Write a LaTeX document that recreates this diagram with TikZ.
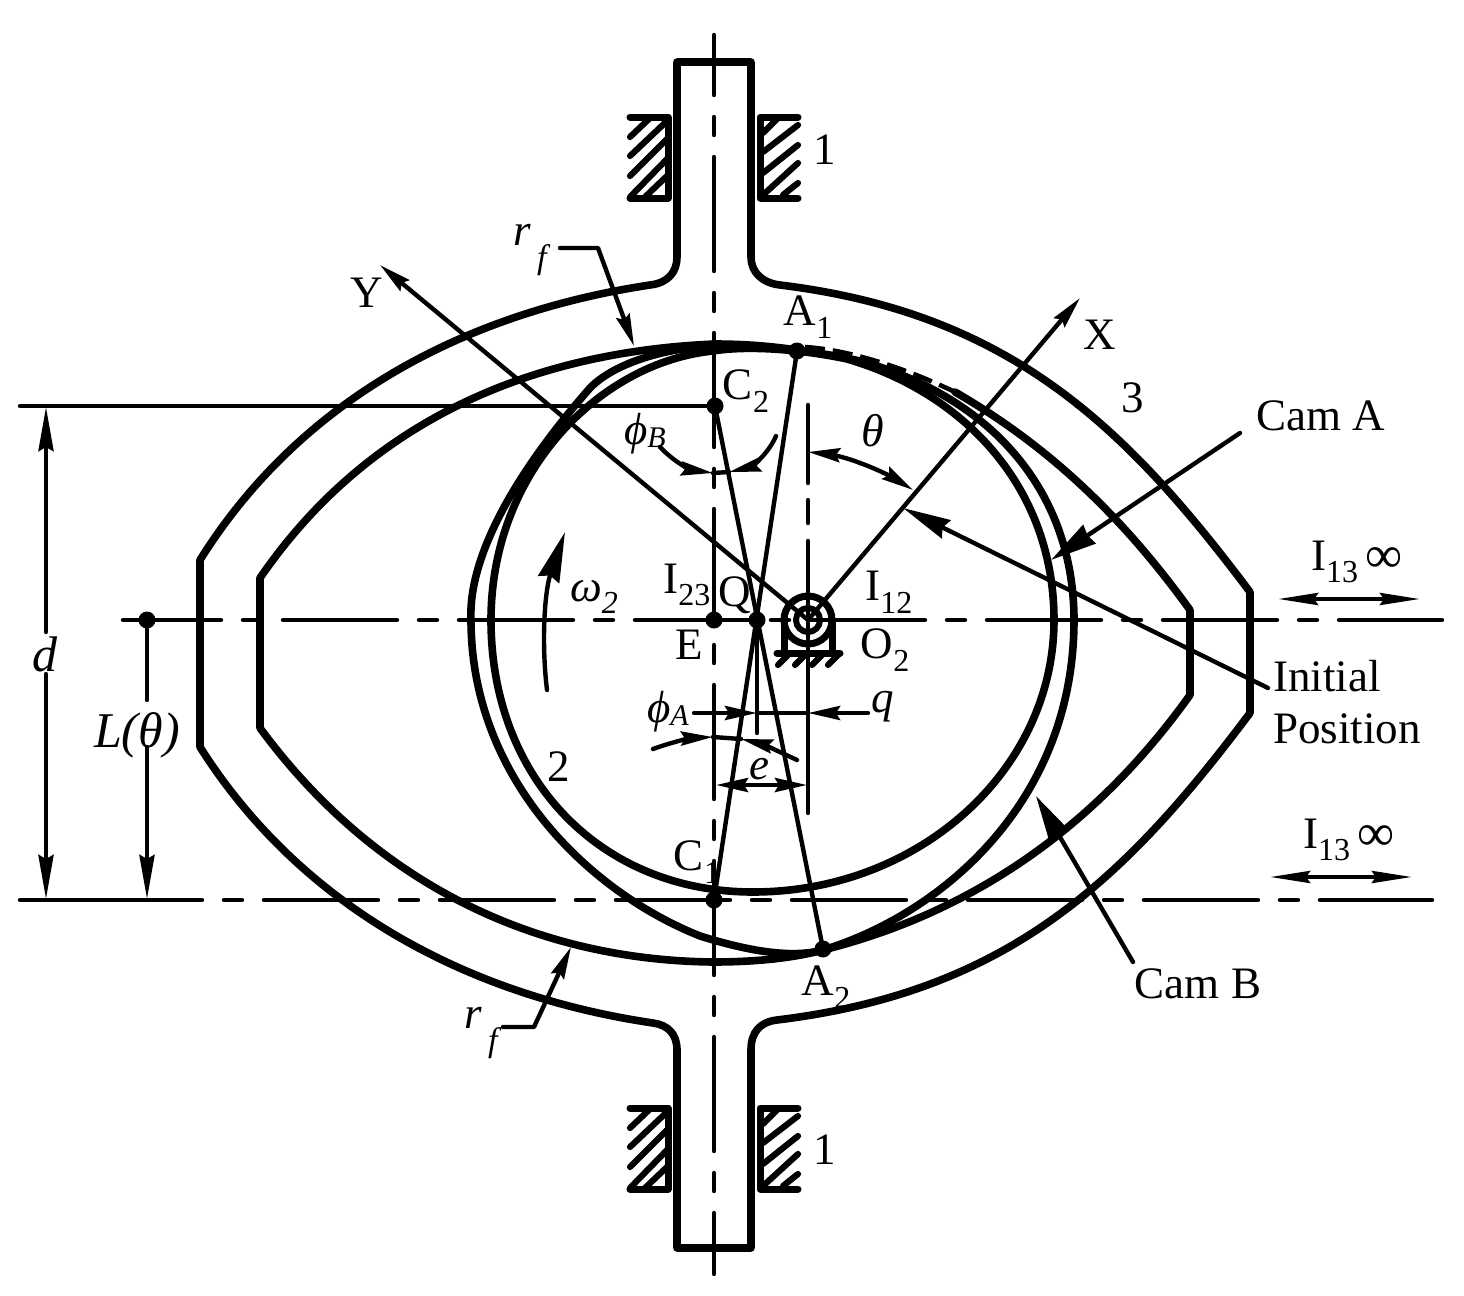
\documentclass[tikz,border=0pt]{standalone}
\usepackage{fontspec}
\setmainfont{Liberation Serif}
\usetikzlibrary{arrows.meta}
\newcommand{\sbs}[1]{\raisebox{-0.28em}{\fontsize{16}{18}\selectfont #1}}
\newcommand{\fsub}{\raisebox{-0.5em}{\fontsize{17}{20}\selectfont\itshape f}}
\newcommand{\infy}{\raisebox{-0.06em}{\fontsize{26}{26}\selectfont ∞}}
\tikzset{
  thickline/.style={line width=3.8pt,line cap=round,line join=round},
  thinline/.style={line width=2.2pt,line cap=round,line join=round},
  hatchline/.style={line width=3.1pt,line cap=round,line join=round},
  centerline/.style={thinline,dash pattern=on 57pt off 11pt on 9pt off 11pt},
  dot/.style={circle,fill=black,draw=none,minimum size=8.5pt,inner sep=0pt},
  lbl/.style={inner sep=0pt,font=\fontsize{22.5}{26}\selectfont},
  small head/.style={-{Stealth[length=16pt,width=7pt,inset=2pt]}},
  long head/.style={-{Stealth[length=22pt,width=7.5pt,inset=2pt]}},
  big head/.style={-{Stealth[length=24pt,width=10pt,inset=2pt]}},
  both small/.style={{Stealth[length=20pt,width=6pt,inset=2pt]}-{Stealth[length=20pt,width=6pt,inset=2pt]}},
}
\begin{document}
\begin{tikzpicture}[x=0.5pt,y=-0.5pt]
\useasboundingbox (0,0) rectangle (1464,1296);
\fill[white] (0,0) rectangle (1464,1296);
% bearing blocks
\foreach \dy in {0,991}{
  \begin{scope}[yshift=-\dy*0.5pt]
  \draw[hatchline,line width=3.5pt] (630,117)--(668,117)--(668,198)--(630,198);
  \draw[hatchline,line width=3.5pt] (798,117)--(760,117)--(760,198)--(798,198);
  \foreach \a/\b/\c/\d in {630/137/650/118,630/156/668/120,630/176/668/138,630/197/668/158,645/197/668/175,
    763/133/778/118,763/152/798/125,763/173/798/145,763/195/798/163,783/195/798/183}
    \draw[hatchline] (\a,\b)--(\c,\d);
  \end{scope}
}
% named points
\coordinate (O2) at (808,620);
\coordinate (Xtip) at (1080,298);
\coordinate (Ytip) at (380,265);
% dots
\node[dot] (C2) at (715,406) {};
\node[dot] (E) at (714,620) {};
\node[dot] (Q) at (757,620) {};
\node[dot] (A1) at (797,351) {};
\node[dot] (A2) at (823,949) {};
\node[dot] (C1) at (714,900) {};
\node[dot] (Lp) at (147,620) {};
% centre lines
\draw[centerline,dash phase=27pt] (714,35)--(714,1274);
\draw[centerline,dash phase=8pt] (123,620)--(1442,620);
\coordinate (H1) at (20,406);
\coordinate (H2) at (20,900);
\coordinate (H3) at (202,900);
\coordinate (H4) at (224,900);
\coordinate (H5) at (1432,900);
\draw[thinline] (H1)--(C2.center);
\draw[thinline] (H2)--(H3);
\draw[centerline,dash phase=68pt] (H4)--(H5);
% frame outer
\draw[thickline] (677,62)--(751,62)--(751,257) .. controls (751,272) and (762,283) .. (780,285)
  .. controls (1008,313) and (1124,424) .. (1250,592)
  -- (1250,713)
  .. controls (1124,881) and (1008,992) .. (777,1020)
  .. controls (760,1022) and (751,1032) .. (751,1050) -- (751,1248) -- (677,1248) -- (677,1050)
  .. controls (677,1034) and (668,1025) .. (653,1023)
  .. controls (464,995) and (300,905) .. (200,747)
  -- (200,560)
  .. controls (300,400) and (464,313) .. (650,285)
  .. controls (668,283) and (677,272) .. (677,257) -- cycle;
% frame inner
\draw[thickline] (260,578) .. controls (365,425) and (525,352) .. (715,344)
  .. controls (743,344) and (770,346) .. (797,350);
\draw[line width=2.3pt,dash pattern=on 10pt off 4pt] (805,347) .. controls (850,350) and (905,368) .. (955,392);
\draw[thickline] (955,392) .. controls (1052,448) and (1125,520) .. (1190,610)
  -- (1190,695)
  .. controls (1097,825) and (975,912) .. (823,950)
  .. controls (790,959) and (750,962) .. (713,962)
  .. controls (530,960) and (372,880) .. (260,728)
  -- (260,578);
% cam A
\draw[thickline] (491,620) .. controls (491,470) and (602,362) .. (713,351)
  .. controls (750,345) and (805,350) .. (847,359)
  .. controls (967,394) and (1054,490) .. (1054,620)
  .. controls (1054,770) and (919,892) .. (753,892)
  .. controls (600,892) and (491,778) .. (491,620) -- cycle;
% cam B
\draw[thickline] (471,620) .. controls (468,555) and (518,470) .. (590,388)
  .. controls (615,362) and (670,347) .. (715,346)
  .. controls (770,346) and (815,351) .. (860,361)
  .. controls (995,398) and (1074,495) .. (1074,620)
  .. controls (1074,800) and (944,913) .. (823,950)
  .. controls (790,959) and (745,950) .. (700,936)
  .. controls (585,890) and (471,775) .. (471,620) -- cycle;
% thin construction lines
\draw[thinline] (C2.center)--(A2.center);
\draw[thinline] (A1.center)--(C1.center);
\draw[thinline] (Q.center)--(757,733);
\draw[thinline] (808,405)--(808,483) (808,500)--(808,523) (808,541)--(808,813);
\draw[thinline,small head] (O2)--(Xtip);
\draw[thinline,small head] (O2)--(Ytip);
% bearing
\draw[line width=3.5pt] (808,620) circle[radius=24];
\draw[line width=3pt] (808,620) circle[radius=12];
\draw[line width=3.5pt] (784,620)--(784,653) (832,620)--(832,653);
\draw[hatchline,line width=3.5pt] (777,653)--(840,653);
\foreach \xx in {778,795,812,828}
  \draw[hatchline] (\xx,665)--(\xx+11,654);
% angle arcs
\coordinate (Th1) at (808,452);
\coordinate (Th2) at (913,490);
\draw[thinline,small head] (860,463) .. controls (880,470) and (897,480) .. (Th2);
\draw[thinline,small head] (860,463) .. controls (845,457) and (828,454) .. (Th1);
\coordinate (Bl) at (660,447);
\coordinate (Bm) at (713,473);
\coordinate (Br) at (776,436);
\coordinate (Bm2) at (729,472);
\draw[thinline,small head] (Bl) .. controls (675,463) and (692,470) .. (Bm);
\draw[thinline,small head] (Br) .. controls (768,455) and (750,467) .. (Bm2);
\draw[thinline] (Bm)--(Bm2);
\coordinate (Al) at (653,749);
\coordinate (Am) at (713,737);
\coordinate (Ar) at (797,760);
\coordinate (Am2) at (741,739);
\draw[thinline,small head] (Al) .. controls (672,742) and (692,738) .. (Am);
\draw[thinline,small head] (Ar) .. controls (780,752) and (762,744) .. (Am2);
\draw[thinline] (Am)--(Am2);
% q
\coordinate (Q1) at (694,713);
\coordinate (Q2) at (757,713);
\coordinate (Q3) at (868,713);
\coordinate (Q4) at (808,713);
\draw[thinline,small head] (Q1)--(Q2);
\draw[thinline,small head] (Q3)--(Q4);
\draw[thinline] (Q2)--(Q4);
% e
\coordinate (E1) at (716,785);
\coordinate (E2) at (807,785);
\draw[thinline,{Stealth[length=16pt,width=7pt,inset=2pt]}-{Stealth[length=16pt,width=7pt,inset=2pt]}] (E1)--(E2);
% omega
\coordinate (W1) at (547,690);
\coordinate (W2) at (565,532);
\draw[thinline,-{Stealth[length=25pt,width=11pt,inset=2pt]}] (W1) .. controls (541,640) and (545,590) .. (W2);
% leaders
\coordinate (Ini) at (1268,688);
\coordinate (IniT) at (903,508);
\draw[thinline,big head] (Ini)--(IniT);
\coordinate (CA) at (1240,433);
\coordinate (CAT) at (1051,560);
\draw[thinline,-{Stealth[length=23pt,width=11pt,inset=1pt]}] (CA)--(CAT);
\coordinate (CB) at (1133,962);
\coordinate (CBT) at (1036,796);
\draw[thinline,-{Stealth[length=23pt,width=11pt,inset=1pt]}] (CB)--(CBT);
\coordinate (RA) at (560,248);
\coordinate (RB) at (598,248);
\coordinate (RT) at (634,346);
\draw[thinline,small head] (RA)--(RB)--(RT);
\coordinate (SA) at (503,1027);
\coordinate (SB) at (534,1027);
\coordinate (ST) at (571,947);
\draw[thinline,small head] (SA)--(SB)--(ST);
% dimensions
\coordinate (D1) at (46,632);
\coordinate (D2) at (46,407);
\coordinate (D3) at (46,674);
\coordinate (D4) at (46,899);
\draw[thinline,long head] (D1)--(D2);
\draw[thinline,long head] (D3)--(D4);
\coordinate (L1) at (147,700);
\coordinate (L2) at (147,747);
\coordinate (L3) at (147,899);
\draw[thinline] (Lp.center)--(L1);
\draw[thinline,long head] (L2)--(L3);
\coordinate (I1) at (1278,599);
\coordinate (I2) at (1420,599);
\coordinate (I3) at (1270,877);
\coordinate (I4) at (1412,877);
\draw[thinline,both small] (I1)--(I2);
\draw[thinline,both small] (I3)--(I4);
% labels
\node[lbl] (t1a) at (825,150) {1};
\node[lbl] (t1b) at (825,1150) {1};
\node[lbl] (rf1) at (530,250) {\itshape r\hspace{3pt}\fsub};
\node[lbl] (rf2) at (481,1033) {\itshape r\hspace{3pt}\fsub};
\node[lbl] (tY) at (367,293) {Y};
\node[lbl] (tX) at (1100,335) {X};
\node[lbl] (tA1) at (808,317) {A\sbs{1}};
\node[lbl] (tC2) at (746,391) {C\sbs{2}};
\node[lbl] (t3) at (1133,398) {3};
\node[lbl] (tCA) at (1321,416) {Cam A};
\node[lbl] (tpB) at (645,434) {\itshape ϕ\raisebox{-0.05em}{\fontsize{15}{18}\selectfont\itshape B}};
\node[lbl] (tth) at (873,431) {\fontsize{23}{26}\selectfont\itshape θ};
\node[lbl] (tw) at (594,597) {\itshape ω\sbs{\itshape 2}};
\node[lbl] (tI23) at (687,585) {I\sbs{23}};
\node[lbl] (tQ) at (735,595) {Q};
\node[lbl] (tI12) at (889,592) {I\sbs{12}};
\node[lbl] (tE) at (689,645) {E};
\node[lbl] (tO2) at (885,650) {O\sbs{2}};
\node[lbl] (tpA) at (668,712) {\itshape ϕ\raisebox{-0.05em}{\fontsize{15}{18}\selectfont\itshape A}};
\node[lbl] (tq) at (883,707) {\itshape q};
\node[lbl] (te) at (759,769) {\itshape e};
\node[lbl] (t2) at (559,767) {2};
\node[lbl] (tL) at (137,735) {\fontsize{25}{26}\selectfont\itshape L(θ)};
\node[lbl] (td) at (45,654) {\fontsize{25}{26}\selectfont\itshape d};
\node[lbl,anchor=west] (tIni) at (1273,676) {Initial};
\node[lbl,anchor=west] (tPos) at (1273,729) {Position};
\node[lbl] (tI13a) at (1357,562) {I\sbs{13}\,\infy};
\node[lbl] (tI13b) at (1349,840) {I\sbs{13}\,\infy};
\node[lbl] (tC1) at (697,862) {C\sbs{1}};
\node[lbl] (tA2) at (826,987) {A\sbs{2}};
\node[lbl] (tCB) at (1198,984) {Cam B};
\end{tikzpicture}
\end{document}
